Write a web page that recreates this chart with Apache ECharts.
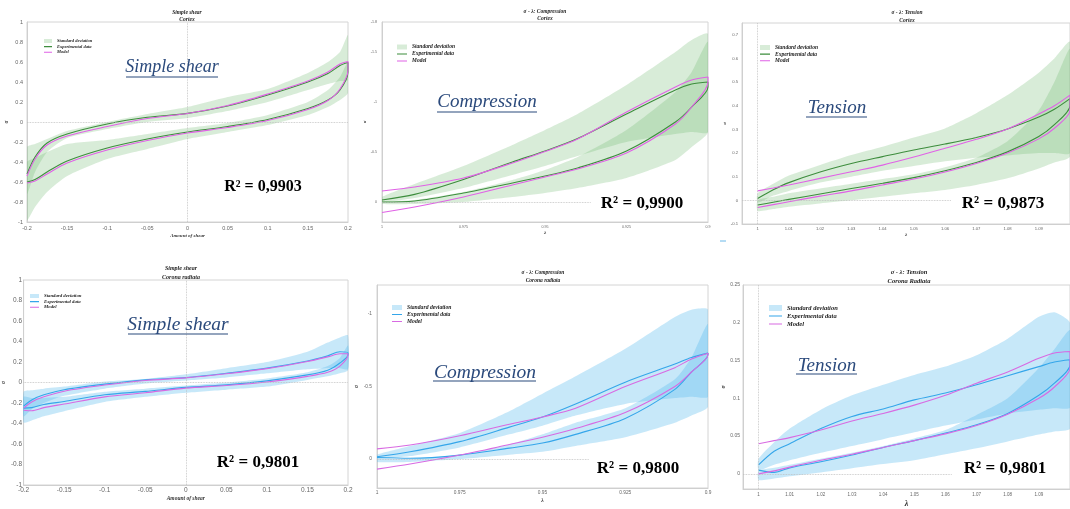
<!DOCTYPE html>
<html><head><meta charset="utf-8">
<script src="https://cdn.jsdelivr.net/npm/echarts@6/dist/echarts.min.js"></script>
<style>html,body{margin:0;padding:0;background:#fff}#c{width:1070px;height:509px}</style>
</head><body><div id="c"></div>
<script>
// ---------- x sampling (strain values) ----------
const shearX = [-0.2, -0.19, -0.175, -0.15, -0.1, -0.05, 0, 0.05, 0.1, 0.15, 0.175, 0.19, 0.2];
const compX  = [1, 0.99, 0.975, 0.96, 0.95, 0.94, 0.925, 0.91, 0.905, 0.9];
const tensX  = [1, 1.005, 1.01, 1.02, 1.03, 1.04, 1.05, 1.06, 1.07, 1.08, 1.09, 1.095, 1.1];

// ---------- Panel 1: simple shear, cortex ----------
const p1ExpLoad   = [-0.60, -0.575, -0.50, -0.39, -0.26, -0.17, -0.10, -0.045, 0.025, 0.135, 0.22, 0.32, 0.50];
const p1ExpUnload = [-0.52, -0.35, -0.21, -0.12, -0.02, 0.047, 0.086, 0.16, 0.27, 0.40, 0.485, 0.565, 0.595];
const p1ModLoad   = [-0.61, -0.59, -0.52, -0.41, -0.28, -0.185, -0.11, -0.055, 0.015, 0.125, 0.215, 0.33, 0.52];
const p1ModUnload = [-0.54, -0.37, -0.23, -0.14, -0.045, 0.035, 0.085, 0.165, 0.28, 0.41, 0.50, 0.58, 0.605];
const p1UnBandTop = [-0.25, -0.22, -0.17, -0.09, 0.0, 0.08, 0.15, 0.25, 0.33, 0.49, 0.60, 0.70, 0.87];
const p1UnBandBot = [-0.72, -0.50, -0.30, -0.16, -0.07, 0.0, 0.04, 0.11, 0.20, 0.32, 0.38, 0.41, 0.42];
const p1LdBandTop = [-0.40, -0.36, -0.30, -0.22, -0.18, -0.12, -0.06, -0.01, 0.07, 0.20, 0.32, 0.45, 0.60];
const p1LdBandBot = [-0.98, -0.85, -0.70, -0.54, -0.37, -0.27, -0.17, -0.10, -0.03, 0.07, 0.15, 0.22, 0.29];

// ---------- Panel 2: compression, cortex ----------
const p2ExpLoad   = [-0.02, -0.076, -0.225, -0.40, -0.51, -0.635, -0.88, -1.12, -1.18, -1.20];
const p2ExpUnload = [0.0, -0.01, -0.09, -0.19, -0.26, -0.34, -0.51, -0.80, -0.95, -1.15];
const p2ModLoad   = [-0.11, -0.15, -0.24, -0.39, -0.505, -0.63, -0.90, -1.15, -1.22, -1.25];
const p2ModUnload = [0.105, 0.05, -0.05, -0.17, -0.25, -0.33, -0.49, -0.78, -0.95, -1.20];
const p2LdBandTop = [-0.05, -0.18, -0.36, -0.57, -0.72, -0.88, -1.17, -1.50, -1.62, -1.68];
const p2LdBandBot = [0.0, -0.04, -0.14, -0.27, -0.36, -0.46, -0.60, -0.68, -0.70, -0.70];
const p2UnBandTop = [0.0, -0.02, -0.10, -0.22, -0.32, -0.45, -0.72, -1.10, -1.30, -1.60];
const p2UnBandBot = [0.02, 0.02, 0.0, -0.05, -0.09, -0.14, -0.24, -0.42, -0.55, -0.70];

// ---------- Panel 3: tension, cortex ----------
const p3ExpLoad   = [0.008, 0.045, 0.075, 0.12, 0.156, 0.185, 0.213, 0.238, 0.266, 0.302, 0.352, 0.385, 0.43];
const p3ExpUnload = [-0.02, -0.008, 0.004, 0.027, 0.05, 0.072, 0.096, 0.125, 0.16, 0.205, 0.27, 0.32, 0.40];
const p3ModLoad   = [0.04, 0.052, 0.065, 0.093, 0.121, 0.149, 0.183, 0.22, 0.258, 0.302, 0.365, 0.40, 0.445];
const p3ModUnload = [-0.03, -0.018, -0.006, 0.018, 0.04, 0.065, 0.09, 0.12, 0.156, 0.20, 0.26, 0.305, 0.38];
const p3LdBandTop = [0.03, 0.07, 0.105, 0.15, 0.192, 0.227, 0.266, 0.304, 0.368, 0.445, 0.54, 0.60, 0.67];
const p3LdBandBot = [-0.01, 0.02, 0.04, 0.075, 0.10, 0.125, 0.145, 0.165, 0.18, 0.19, 0.20, 0.20, 0.20];
const p3UnBandTop = [0.0, 0.015, 0.03, 0.05, 0.07, 0.09, 0.11, 0.14, 0.18, 0.25, 0.38, 0.50, 0.64];
const p3UnBandBot = [-0.045, -0.037, -0.027, -0.013, 0.0, 0.015, 0.03, 0.044, 0.065, 0.093, 0.135, 0.16, 0.185];

// ---------- Panel 4: simple shear, corona radiata ----------
const p4ExpLoad   = [-0.25, -0.245, -0.215, -0.185, -0.12, -0.087, -0.048, -0.023, 0.016, 0.074, 0.12, 0.19, 0.27];
const p4ExpUnload = [-0.23, -0.17, -0.12, -0.07, -0.016, 0.026, 0.048, 0.09, 0.14, 0.21, 0.26, 0.30, 0.29];
const p4ModLoad   = [-0.27, -0.275, -0.245, -0.21, -0.14, -0.10, -0.055, -0.03, 0.005, 0.06, 0.10, 0.16, 0.27];
const p4ModUnload = [-0.25, -0.19, -0.14, -0.085, -0.025, 0.02, 0.045, 0.085, 0.135, 0.205, 0.25, 0.28, 0.28];
const p4UnBandTop = [-0.09, -0.075, -0.06, -0.04, 0.01, 0.035, 0.08, 0.14, 0.20, 0.30, 0.39, 0.44, 0.46];
const p4UnBandBot = [-0.33, -0.26, -0.20, -0.13, -0.06, -0.01, 0.02, 0.05, 0.09, 0.13, 0.14, 0.14, 0.13];
const p4LdBandTop = [-0.14, -0.15, -0.15, -0.14, -0.09, -0.06, -0.03, 0.0, 0.04, 0.10, 0.16, 0.24, 0.36];
const p4LdBandBot = [-0.39, -0.37, -0.33, -0.28, -0.19, -0.14, -0.10, -0.07, -0.04, 0.025, 0.06, 0.09, 0.12];

// ---------- Panel 5: compression, corona radiata ----------
const p5ExpLoad   = [-0.016, -0.05, -0.12, -0.22, -0.29, -0.38, -0.53, -0.655, -0.70, -0.73];
const p5ExpUnload = [-0.01, -0.005, -0.027, -0.075, -0.11, -0.17, -0.28, -0.48, -0.60, -0.72];
const p5ModLoad   = [-0.07, -0.096, -0.16, -0.24, -0.29, -0.35, -0.50, -0.63, -0.69, -0.73];
const p5ModUnload = [0.07, 0.035, -0.027, -0.10, -0.15, -0.21, -0.32, -0.50, -0.60, -0.72];
const p5LdBandTop = [-0.03, -0.09, -0.18, -0.33, -0.45, -0.57, -0.76, -0.98, -1.03, -1.03];
const p5LdBandBot = [0.0, -0.02, -0.08, -0.17, -0.23, -0.30, -0.38, -0.42, -0.43, -0.43];
const p5UnBandTop = [0.0, 0.0, -0.03, -0.10, -0.17, -0.25, -0.35, -0.55, -0.70, -0.93];
const p5UnBandBot = [0.02, 0.02, 0.0, -0.03, -0.05, -0.09, -0.15, -0.25, -0.30, -0.36];

// ---------- Panel 6: tension, corona radiata ----------
const p6ExpLoad   = [0.012, 0.03, 0.04, 0.06, 0.076, 0.086, 0.098, 0.107, 0.118, 0.13, 0.142, 0.148, 0.151];
const p6ExpUnload = [0.005, 0.002, 0.008, 0.016, 0.025, 0.035, 0.044, 0.054, 0.065, 0.08, 0.104, 0.12, 0.144];
const p6ModLoad   = [0.04, 0.044, 0.048, 0.058, 0.07, 0.08, 0.091, 0.104, 0.12, 0.135, 0.153, 0.16, 0.162];
const p6ModUnload = [0.0, 0.004, 0.009, 0.018, 0.026, 0.035, 0.044, 0.053, 0.064, 0.079, 0.10, 0.115, 0.14];
const p6LdBandTop = [0.02, 0.042, 0.06, 0.085, 0.104, 0.118, 0.131, 0.142, 0.157, 0.179, 0.208, 0.214, 0.20];
const p6LdBandBot = [0.005, 0.012, 0.018, 0.028, 0.037, 0.046, 0.055, 0.064, 0.072, 0.08, 0.085, 0.087, 0.088];
const p6UnBandTop = [0.004, 0.008, 0.012, 0.02, 0.028, 0.037, 0.047, 0.058, 0.078, 0.10, 0.14, 0.165, 0.19];
const p6UnBandBot = [-0.008, -0.006, -0.003, 0.002, 0.0075, 0.013, 0.018, 0.026, 0.034, 0.043, 0.052, 0.056, 0.06];

// ---------- texts ----------
const panelTitles = [['Simple shear','Cortex'],['σ - λ: Compression','Cortex'],['σ - λ: Tension','Cortex'],
                     ['Simple shear','Corona radiata'],['σ - λ: Compression','Corona radiata'],['σ - λ: Tension','Corona Radiata']];
const bigLabels = ['Simple shear','Compression','Tension','Simple shear','Compression','Tension'];
const r2Labels = ['R² = 0,9903','R² = 0,9900','R² = 0,9873','R² = 0,9801','R² = 0,9800','R² = 0,9801'];
const xNames = ['Amount of shear','λ','λ','Amount of shear','λ','λ'];

// ---------- styling ----------
const GREEN_BAND = 'rgba(110,185,110,0.27)';
const BLUE_BAND = 'rgba(80,185,235,0.32)';
const GREEN_LINE = '#3d8d3d';
const BLUE_LINE = '#35a6ea';
const MAG_TOP = '#e062e6';
const MAG_BOT = '#d86ae2';
const SERIF = '"Liberation Serif", "DejaVu Serif", serif';
const SANS = '"Liberation Sans", Arial, sans-serif';

function loop(xs, load, unload) {
  const pts = xs.map((x, i) => [x, load[i]]);
  for (let i = xs.length - 1; i >= 0; i--) pts.push([xs[i], unload[i]]);
  return pts;
}
function band(gi, xs, top, bot, color, name) {
  return {
    type: 'custom', name, xAxisIndex: gi, yAxisIndex: gi, clip: true, silent: true,
    itemStyle: { color }, data: [[xs[0], top[0]]],
    renderItem(params, api) {
      const pts = [];
      xs.forEach((x, i) => pts.push(api.coord([x, top[i]])));
      for (let i = xs.length - 1; i >= 0; i--) pts.push(api.coord([xs[i], bot[i]]));
      return { type: 'polygon', shape: { points: pts, smooth: 0.2 }, style: { fill: color } };
    }
  };
}
function line(gi, data, color, name, width, mlData) {
  const s = { type: 'line', name, xAxisIndex: gi, yAxisIndex: gi, data, symbol: 'none', smooth: 0.3,
    clip: true, silent: true, lineStyle: { color, width }, itemStyle: { color } };
  if (mlData) s.markLine = { silent: true, symbol: 'none', label: { show: false },
    lineStyle: { color: '#bdbdbd', type: 'dotted', width: 0.8 }, data: mlData };
  return s;
}
const near = (v, step) => Math.abs(v / step - Math.round(v / step)) < 1e-6;
const fmt = v => String(parseFloat(v.toFixed(4)));

function axisCommon(fs, margin) {
  return {
    type: 'value', axisLine: { show: true, onZero: false, lineStyle: { color: '#cfcfcf', width: 1 } },
    axisTick: { show: false }, splitLine: { show: false },
    axisLabel: { color: '#666', fontFamily: SANS, fontSize: fs, margin },
    nameLocation: 'middle',
  };
}
function nameStyle(fs) {
  return { fontFamily: SERIF, fontStyle: 'italic', fontWeight: 'bold', fontSize: fs, color: '#333' };
}

const grids = [
  { left: 27, top: 22, width: 321, height: 200 },
  { left: 382, top: 22, width: 326, height: 200 },
  { left: 742, top: 23, width: 332, height: 201 },
  { left: 13, top: 280, width: 335, height: 205 },
  { left: 377, top: 285, width: 331, height: 203 },
  { left: 743, top: 285, width: 331, height: 204 }
].map(g => Object.assign({ show: true, borderColor: '#d4d4d4', borderWidth: 1, backgroundColor: 'transparent' }, g));

const xAxes = [
  Object.assign(axisCommon(5.5, 3), { gridIndex: 0, min: -0.2, max: 0.2, interval: 0.05, name: xNames[0], nameGap: 11, nameTextStyle: nameStyle(5) }),
  Object.assign(axisCommon(3.6, 3), { gridIndex: 1, min: 0.9, max: 1, interval: 0.025, inverse: true, name: xNames[1], nameGap: 7, nameTextStyle: nameStyle(5),
    axisLabel: { color: '#666', fontFamily: SANS, fontSize: 3.6, margin: 3, formatter: fmt } }),
  Object.assign(axisCommon(4.2, 3), { gridIndex: 2, min: 0.995, max: 1.1, interval: 0.005, name: xNames[2], nameGap: 7, nameTextStyle: nameStyle(5),
    axisLabel: { color: '#666', fontFamily: SANS, fontSize: 4.2, margin: 3, showMaxLabel: false, formatter: v => near(v, 0.01) && v < 1.095 ? fmt(v) : '' } }),
  Object.assign(axisCommon(6.5, 2), { gridIndex: 3, min: -0.2, max: 0.2, interval: 0.05, name: xNames[3], nameGap: 11, nameTextStyle: nameStyle(5.5) }),
  Object.assign(axisCommon(4.8, 2), { gridIndex: 4, min: 0.9, max: 1, interval: 0.025, inverse: true, name: xNames[4], nameGap: 10, nameTextStyle: nameStyle(5.5),
    axisLabel: { color: '#666', fontFamily: SANS, fontSize: 4.8, margin: 2, formatter: fmt } }),
  Object.assign(axisCommon(4.5, 3), { gridIndex: 5, min: 0.995, max: 1.1, interval: 0.005, name: xNames[5], nameGap: 10.5, nameTextStyle: nameStyle(8),
    axisLabel: { color: '#666', fontFamily: SANS, fontSize: 4.5, margin: 3, showMaxLabel: false, formatter: v => near(v, 0.01) && v < 1.095 ? fmt(v) : '' } })
];
const yAxes = [
  Object.assign(axisCommon(5.5, 4), { gridIndex: 0, min: -1, max: 1, interval: 0.2, name: 'σ', nameGap: 12, nameTextStyle: nameStyle(5.5) }),
  Object.assign(axisCommon(3.6, 5), { gridIndex: 1, min: -1.8, max: 0.2, interval: 0.1, inverse: true, name: 'σ', nameGap: 7.5, nameTextStyle: nameStyle(5),
    axisLabel: { color: '#666', fontFamily: SANS, fontSize: 3.6, margin: 5, formatter: v => (near(v, 0.5) && v <= 0) || Math.abs(v + 1.8) < 1e-6 ? fmt(v) : '' } }),
  Object.assign(axisCommon(4.2, 4), { gridIndex: 2, min: -0.1, max: 0.75, interval: 0.05, name: 'σ', nameGap: 9.5, nameTextStyle: nameStyle(5),
    axisLabel: { color: '#666', fontFamily: SANS, fontSize: 4.2, margin: 4, showMaxLabel: false, formatter: v => near(v, 0.1) && v < 0.72 ? fmt(v) : '' } }),
  Object.assign(axisCommon(6.5, 1.5), { gridIndex: 3, min: -1, max: 1, interval: 0.2, name: 'σ', nameGap: 7.5, nameTextStyle: nameStyle(5.5) }),
  Object.assign(axisCommon(4.8, 5), { gridIndex: 4, min: -1.2, max: 0.2, interval: 0.1, inverse: true, name: 'σ', nameGap: 11.5, nameTextStyle: nameStyle(5.5),
    axisLabel: { color: '#666', fontFamily: SANS, fontSize: 4.8, margin: 5, formatter: v => near(v, 0.5) && v <= 0 && v >= -1 ? fmt(v) : '' } }),
  Object.assign(axisCommon(5, 3), { gridIndex: 5, min: -0.02, max: 0.25, interval: 0.01, name: 'σ', nameGap: 13, nameTextStyle: nameStyle(6),
    axisLabel: { color: '#666', fontFamily: SANS, fontSize: 5, margin: 3, formatter: v => near(v, 0.05) && v >= 0 ? fmt(v) : '' } })
];

const T = ['Standard deviation', 'Experimental data', 'Model'];
const B = T.map(s => s + ' ');
const series = [
  band(0, shearX, p1UnBandTop, p1UnBandBot, GREEN_BAND, T[0]),
  band(0, shearX, p1LdBandTop, p1LdBandBot, GREEN_BAND, T[0]),
  line(0, loop(shearX, p1ExpLoad, p1ExpUnload), GREEN_LINE, T[1], 1.1, [{ xAxis: 0 }, { yAxis: 0 }]),
  line(0, loop(shearX, p1ModLoad, p1ModUnload), MAG_TOP, T[2], 1.1),

  band(1, compX, p2LdBandTop, p2LdBandBot, GREEN_BAND, T[0]),
  band(1, compX, p2UnBandTop, p2UnBandBot, GREEN_BAND, T[0]),
  line(1, loop(compX, p2ExpLoad, p2ExpUnload), GREEN_LINE, T[1], 1.1, [[{ coord: [1, 0] }, { coord: [0.936, 0] }]]),
  line(1, loop(compX, p2ModLoad, p2ModUnload), MAG_TOP, T[2], 1.1),

  band(2, tensX, p3LdBandTop, p3LdBandBot, GREEN_BAND, T[0]),
  band(2, tensX, p3UnBandTop, p3UnBandBot, GREEN_BAND, T[0]),
  line(2, loop(tensX, p3ExpLoad, p3ExpUnload), GREEN_LINE, T[1], 1.1,
    [[{ coord: [0.995, 0] }, { coord: [1.062, 0] }], [{ coord: [1, -0.1] }, { coord: [1, 0.75] }]]),
  line(2, loop(tensX, p3ModLoad, p3ModUnload), MAG_TOP, T[2], 1.1),

  band(3, shearX, p4UnBandTop, p4UnBandBot, BLUE_BAND, B[0]),
  band(3, shearX, p4LdBandTop, p4LdBandBot, BLUE_BAND, B[0]),
  line(3, loop(shearX, p4ExpLoad, p4ExpUnload), BLUE_LINE, B[1], 1.1, [{ xAxis: 0 }, { yAxis: 0 }]),
  line(3, loop(shearX, p4ModLoad, p4ModUnload), MAG_BOT, B[2], 1.1),

  band(4, compX, p5LdBandTop, p5LdBandBot, BLUE_BAND, B[0]),
  band(4, compX, p5UnBandTop, p5UnBandBot, BLUE_BAND, B[0]),
  line(4, loop(compX, p5ExpLoad, p5ExpUnload), BLUE_LINE, B[1], 1.1, [[{ coord: [1, 0] }, { coord: [0.936, 0] }]]),
  line(4, loop(compX, p5ModLoad, p5ModUnload), MAG_BOT, B[2], 1.1),

  band(5, tensX, p6LdBandTop, p6LdBandBot, BLUE_BAND, B[0]),
  band(5, tensX, p6UnBandTop, p6UnBandBot, BLUE_BAND, B[0]),
  line(5, loop(tensX, p6ExpLoad, p6ExpUnload), BLUE_LINE, B[1], 1.1,
    [[{ coord: [0.995, 0] }, { coord: [1.062, 0] }], [{ coord: [1, -0.02] }, { coord: [1, 0.25] }]]),
  line(5, loop(tensX, p6ModLoad, p6ModUnload), MAG_BOT, B[2], 1.1)
];

// thin horizontal bar icon, centred, whose bounding box spans the full item height
function lineIcon(ih, t) {
  const a = (5 - 5 * t / ih).toFixed(3), b = (5 + 5 * t / ih).toFixed(3);
  return `path://M0,0L0.001,0L0,0.001Z M0,10L0.001,10L0,9.999Z M0,${a}H10V${b}H0Z`;
}
function legend(names, left, top, fs, iw, ih, lh, gap, c1, c2, c3) {
  const ic = lineIcon(ih, 1.1);
  return {
    left, top, orient: 'vertical', padding: 0, itemGap: gap, itemWidth: iw, itemHeight: ih, selectedMode: false,
    symbolKeepAspect: false,
    textStyle: { fontFamily: SERIF, fontStyle: 'italic', fontWeight: 'bold', fontSize: fs, lineHeight: lh, color: '#222' },
    formatter: n => n.trim(),
    data: [{ name: names[0], icon: 'rect', itemStyle: { color: c1 } },
           { name: names[1], icon: ic, itemStyle: { color: c2 } },
           { name: names[2], icon: ic, itemStyle: { color: c3 } }]
  };
}
const legends = [
  legend(T, 44, 38.5, 4.5, 8, 4, 5, 0.6, GREEN_BAND, GREEN_LINE, MAG_TOP),
  legend(T, 397, 44, 5.5, 10, 5, 6, 1, GREEN_BAND, GREEN_LINE, MAG_TOP),
  legend(T, 760, 44.5, 5.5, 10, 5, 6, 0.6, GREEN_BAND, GREEN_LINE, MAG_TOP),
  legend(B, 30, 293.5, 4.8, 9, 4, 5, 0.6, BLUE_BAND, BLUE_LINE, MAG_BOT),
  legend(B, 392, 304.5, 5.7, 10, 5, 6, 1, BLUE_BAND, BLUE_LINE, MAG_BOT),
  legend(B, 769, 304.5, 6.5, 13, 6, 7, 1, BLUE_BAND, BLUE_LINE, MAG_BOT)
];

// ---------- text overlays ----------
const titlePos = [[187, 13, 19.5, 5.5], [545, 11.5, 19, 5.5], [907, 12.5, 21, 5.5], [181, 268, 277, 6], [543, 273, 281, 5.5], [909, 272.5, 281, 6.5]];
const bigPos = [[172, 67, 18, 126, 218, 77], [487, 102, 19, 437, 537, 112], [837, 108, 19, 806, 867, 117],
                [178, 325, 19.5, 128, 228, 334], [485, 373, 19.5, 433, 536, 381], [827, 366, 19, 796, 857, 374]];
const r2Pos = [[263, 187, 16], [642, 203.5, 17], [1003, 204, 17], [258, 463, 17], [638, 469, 17], [1005, 469, 17]];

const graphic = [];
titlePos.forEach((p, i) => {
  [1, 2].forEach(k => graphic.push({ type: 'text', x: p[0], y: p[k], z: 50,
    style: { text: panelTitles[i][k - 1], font: `italic bold ${p[3]}px ${SERIF}`, fill: '#222', align: 'center', verticalAlign: 'middle' } }));
});
bigPos.forEach((p, i) => {
  graphic.push({ type: 'text', x: p[0], y: p[1], z: 50,
    style: { text: bigLabels[i], font: `italic ${p[2]}px ${SERIF}`, fill: '#2b4a7c', align: 'center', verticalAlign: 'middle' } });
  graphic.push({ type: 'line', z: 50, shape: { x1: p[3], y1: p[5], x2: p[4], y2: p[5] }, style: { stroke: '#2b4a7c', lineWidth: 1.2 } });
});
r2Pos.forEach((p, i) => {
  graphic.push({ type: 'text', x: p[0], y: p[1], z: 50,
    style: { text: r2Labels[i], font: `bold ${p[2]}px ${SERIF}`, fill: '#000', align: 'center', verticalAlign: 'middle',
      backgroundColor: '#fff', padding: [1, 3] } });
});
graphic.push({ type: 'line', z: 50, shape: { x1: 720, y1: 241, x2: 726, y2: 241 }, style: { stroke: '#6ab8e8', lineWidth: 1 } });

const chart = echarts.init(document.getElementById('c'));
chart.setOption({
  animation: false,
  backgroundColor: '#fff',
  grid: grids, xAxis: xAxes, yAxis: yAxes,
  legend: legends, series, graphic
});
</script></body></html>
